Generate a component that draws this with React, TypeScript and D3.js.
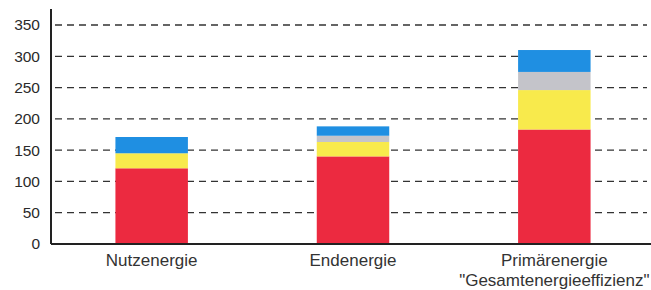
import React, { useRef, useEffect } from 'react'
import * as d3 from 'd3'

const categories = ['Nutzenergie', 'Endenergie', 'Primärenergie']
const subLabels = ['', '', '"Gesamtenergieeffizienz"']
const seriesKeys = ['rot', 'gelb', 'grau', 'blau']
const rot = [121, 140, 183]
const gelb = [24, 23, 63]
const grau = [0, 10, 29]
const blau = [26, 15, 35]
const yTicks = [0, 50, 100, 150, 200, 250, 300, 350]
const colors = ['#ec2a40', '#f8ea4c', '#c4c4ca', '#1f8fe2']

function App() {
  const svgRef = useRef<SVGSVGElement>(null)

  useEffect(() => {
    const width = 651
    const height = 290
    const margin = { left: 51, right: 0, top: 9, bottom: 46 }

    const svg = d3.select(svgRef.current)
    svg.selectAll('*').remove()

    const rows = categories.map((c, i) => ({
      cat: c,
      rot: rot[i],
      gelb: gelb[i],
      grau: grau[i],
      blau: blau[i],
    }))

    const x = d3.scaleBand()
      .domain(categories)
      .range([margin.left, width - margin.right + 4])
      .paddingInner(0.64)
      .paddingOuter(0.32)

    const y = d3.scaleLinear()
      .domain([0, 350])
      .range([height - margin.bottom, 25])

    // gridlines
    svg.append('g')
      .selectAll('line')
      .data(yTicks.filter(d => d > 0))
      .join('line')
      .attr('x1', margin.left + 4)
      .attr('x2', width - 4)
      .attr('y1', d => y(d))
      .attr('y2', d => y(d))
      .style('stroke', '#333')
      .style('stroke-width', 1.3)
      .style('stroke-dasharray', '7,5')

    // bars
    const stack = d3.stack<any>().keys(seriesKeys)(rows)
    svg.append('g')
      .selectAll('g')
      .data(stack)
      .join('g')
      .attr('fill', (d, i) => colors[i])
      .selectAll('rect')
      .data(d => d)
      .join('rect')
      .attr('x', d => x(d.data.cat) as number)
      .attr('width', x.bandwidth())
      .attr('y', d => y(d[1]))
      .attr('height', d => y(d[0]) - y(d[1]))

    // axes
    svg.append('line')
      .attr('x1', margin.left)
      .attr('x2', margin.left)
      .attr('y1', margin.top)
      .attr('y2', y(0))
      .style('stroke', '#222')
      .style('stroke-width', 2)
    svg.append('line')
      .attr('x1', margin.left)
      .attr('x2', width)
      .attr('y1', y(0))
      .attr('y2', y(0))
      .style('stroke', '#222')
      .style('stroke-width', 2)

    // tick labels
    svg.append('g')
      .selectAll('text')
      .data(yTicks)
      .join('text')
      .attr('x', 40)
      .attr('y', d => y(d))
      .attr('dy', '0.35em')
      .attr('text-anchor', 'end')
      .style('font-family', 'Liberation Sans, Arial, sans-serif')
      .style('font-size', '15.5px')
      .style('fill', '#2a2a2a')
      .text(d => d)

    // category labels
    const lbl = svg.append('g')
      .style('font-family', 'Liberation Sans, Arial, sans-serif')
      .style('font-size', '17px')
      .style('fill', '#333')
    lbl.selectAll('text.c')
      .data(categories)
      .join('text')
      .attr('class', 'c')
      .attr('x', d => (x(d) as number) + x.bandwidth() / 2)
      .attr('y', 266)
      .attr('text-anchor', 'middle')
      .text(d => d)
    lbl.selectAll('text.s')
      .data(categories)
      .join('text')
      .attr('class', 's')
      .attr('x', d => (x(d) as number) + x.bandwidth() / 2)
      .attr('y', 286)
      .attr('text-anchor', 'middle')
      .text((d, i) => subLabels[i])
  }, [])

  return (
    <svg ref={svgRef} width={651} height={290}
      style={{ position: 'absolute', left: 0, top: 0, background: '#fff' }} />
  )
}

export default App
